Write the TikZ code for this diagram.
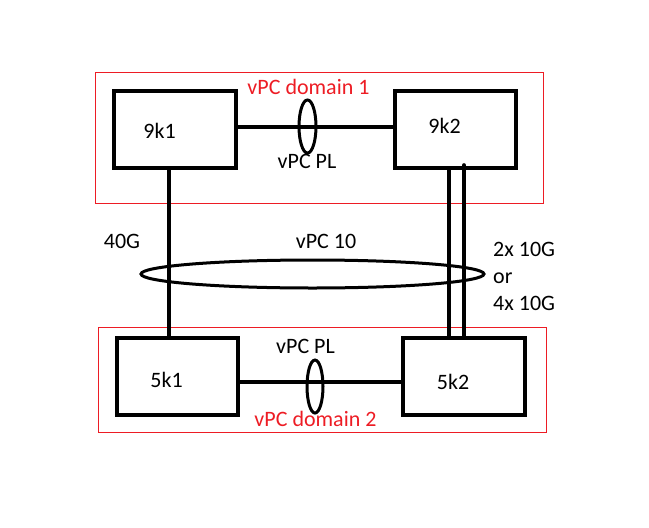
\documentclass[tikz,border=0pt]{standalone}
\usepackage{fontspec}
\setmainfont{Carlito}
\usetikzlibrary{shapes.geometric}
\definecolor{pRed}{HTML}{ED1C24}

\begin{document}
\begin{tikzpicture}[x=1pt, y=-1pt,
      every node/.style={font=\fontsize{22}{27}\selectfont, inner sep=0pt},
      swbox/.style={rectangle, draw, line width=4.3pt, minimum height=77pt},
      dombox/.style={rectangle, draw=pRed, line width=1pt},
      lnk/.style={line width=4pt},
      bundle/.style={ellipse, draw, line width=3pt}]
    \useasboundingbox (0,0) rectangle (649,528);
    % vPC domains
    \node[dombox, minimum width=448pt, minimum height=131pt] (dom1) at (319,137.5) {};
    \node[dombox, minimum width=448pt, minimum height=105pt] (dom2) at (322,379.5) {};
    \node[text=pRed, anchor=base] (dom1lbl) at (308.5,94) {vPC domain 1};
    \node[text=pRed, anchor=base] (dom2lbl) at (315.5,426) {vPC domain 2};
    % switches
    \node[swbox, minimum width=122pt] (n9k1) at (175,129.5) {};
    \node[swbox, minimum width=121pt] (n9k2) at (455.5,129.5) {};
    \node[swbox, minimum width=121pt] (n5k1) at (177.5,376.5) {};
    \node[swbox, minimum width=122pt] (n5k2) at (464,376.5) {};
    \node[anchor=base] (t9k1) at (159.5,138) {9k1};
    \node[anchor=base] (t9k2) at (444.5,133) {9k2};
    \node[anchor=base] (t5k1) at (166.5,387) {5k1};
    \node[anchor=base] (t5k2) at (453,389) {5k2};
    % peer links
    \draw[lnk] ([yshift=2.5pt]n9k1.east) -- ([yshift=2.5pt]n9k1.east -| n9k2.west);
    \draw[lnk] ([yshift=-5pt]n5k1.east) -- ([yshift=-5pt,xshift=2pt]n5k1.east -| n5k2.west);
    \node[bundle, minimum width=17pt, minimum height=53pt] (pl1) at (307.5,126.5) {};
    \node[bundle, minimum width=16pt, minimum height=53pt] (pl2) at (315,386.5) {};
    \node[anchor=base] (pl1lbl) at (307,168) {vPC PL};
    \node[anchor=base] (pl2lbl) at (305.5,353) {vPC PL};
    % uplinks
    \draw[lnk] ([xshift=-6.5pt]n9k1.south) -- ([xshift=-6.5pt]n9k1.south |- n5k1.north);
    \draw[lnk] ([xshift=-6.5pt]n9k2.south) -- ([xshift=-6.5pt]n9k2.south |- n5k2.north);
    \draw[lnk, line cap=round] ([xshift=8.5pt,yshift=5pt]n9k2.south)
      -- ([xshift=8.5pt]n9k2.south |- n5k2.north);
    \node[bundle, minimum width=343pt, minimum height=28pt] (vpc10) at (312.5,274) {};
    \node[anchor=base] (vpc10lbl) at (326,248) {vPC 10};
    \node[anchor=base] (spd40) at (122,248) {40G};
    \node[anchor=west, align=left] (spd10) at (493,276) {2x 10G\\or\\4x 10G};
  \end{tikzpicture}
\end{document}
